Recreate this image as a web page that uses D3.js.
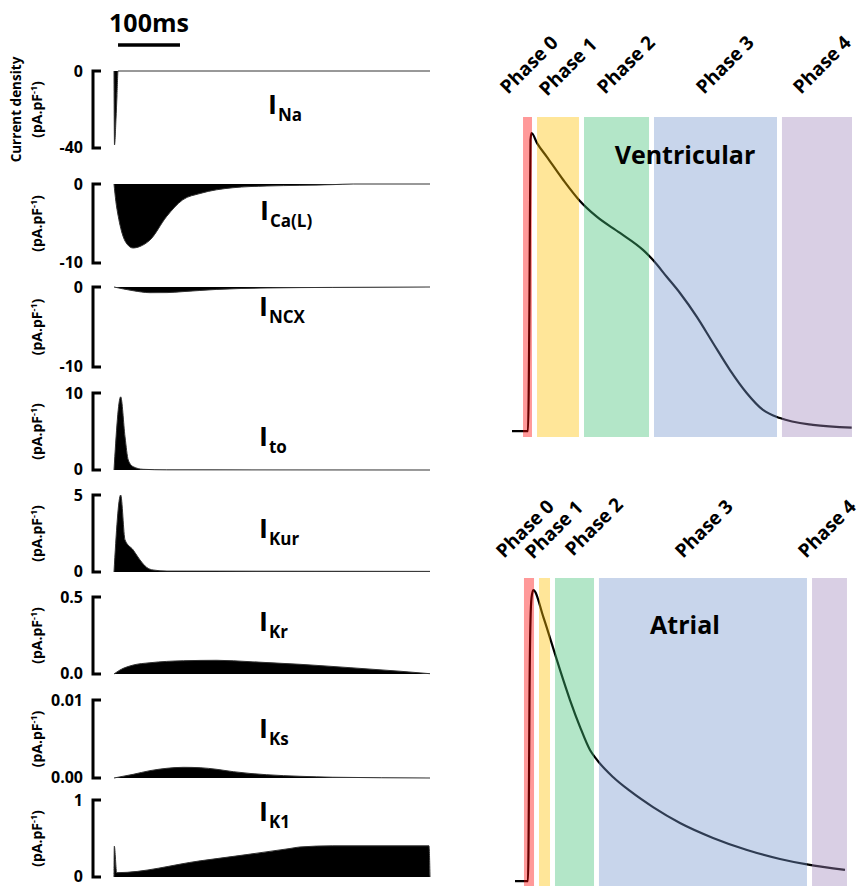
<!DOCTYPE html>
<html>
<head>
<meta charset="utf-8">
<script src="https://cdnjs.cloudflare.com/ajax/libs/d3/7.8.5/d3.min.js"></script>
<style>
body {margin: 0; background: #fff;}
text {font-family: "Open Sans", sans-serif; font-weight: bold; fill: #000;}
</style>
</head>
<body>
<div id="chart"></div>
<script>
//Ionic currents, [time ms, current density pA/pF]
let iNa  = [[0,0],[0.8,-38.4],[3.2,-25],[4.8,-13],[6.5,0],[510,0]];
let iCaL = [[0,0],[3,-2.2],[6.9,-4.1],[15,-6.7],[21,-7.6],[30.7,-8.1],[42,-7.9],[58,-7.1],[85,-4.1],[111,-2.0],[139,-1.2],[192,-0.47],[247,-0.25],[300,-0.17],[353,-0.08],[386,0],[510,0]];
let iNCX = [[0,0],[30.7,-0.46],[58,-0.71],[85.5,-0.7],[111,-0.58],[166,-0.3],[247,-0.12],[353,-0.05],[510,0]];
let iTo  = [[0,0],[10.8,9.5],[17.8,4.3],[23,1.3],[31,0.43],[47,0.09],[85,0.02],[510,0]];
let iKur = [[0,0],[10.8,5.0],[17.8,2.08],[31,1.43],[42,0.78],[52.8,0.3],[63,0.13],[85.5,0.06],[510,0.04]];
let iKr  = [[0,0],[9.7,0.026],[31,0.058],[58,0.073],[112,0.086],[166,0.089],[219.5,0.08],[300,0.063],[381,0.041],[461.6,0.018],[510,0.002]];
let iKs  = [[0,0],[31,0.00047],[58,0.00094],[85,0.00124],[112,0.00137],[139,0.00132],[166,0.00111],[192.5,0.00081],[246.5,0.00042],[300,0.00022],[353,0.0001],[510,0]];
let iK1  = [[0,0],[0.5,0.40],[4.4,0.056],[139,0.21],[284,0.37],[300,0.39],[353,0.405],[508.4,0.405],[510,0]];

let currents = [iNa, iCaL, iNCX, iTo, iKur, iKr, iKs, iK1];
let currentNames = ["Na", "Ca(L)", "NCX", "to", "Kur", "Kr", "Ks", "K1"];
let currentDomains = [[-40,0],[-10,0],[-10,0],[0,10],[0,5],[0,0.5],[0,0.01],[0,1]];
let tickTop = ["0", "0", "0", "10", "5", "0.5", "0.01", "1"];
let tickBottom = ["-40", "-10", "-10", "0", "0", "0.0", "0.00", "0"];

//Action potentials, [time ms, membrane potential mV]
let apVentricular = [[0,-87.6],[23.5,-87.6],[25.7,-34.3],[27.2,30.7],[28.7,33.5],[36.8,29.4],[51,23.9],[75.4,14.4],[98.5,6.3],[124.6,-0.5],[158.8,-7.1],[192.6,-14.0],[207.4,-18.1],[227.5,-24.9],[247,-31.5],[271.6,-41.1],[295.6,-51.8],[320.6,-62.8],[345.1,-72.1],[369.1,-79.0],[394.1,-82.3],[442.6,-85.1],[499.6,-86.2]];
let apAtrial = [[4.4,-87.9],[23.5,-87.9],[25,-45.3],[25.7,-11.5],[27.2,22.3],[28.7,31.6],[31.3,34.9],[46,23.6],[58.4,12.4],[70.6,1.2],[85.3,-11.5],[100,-22.8],[114.7,-32.6],[125,-36.8],[148.5,-44.0],[173.5,-49.9],[207.4,-56.7],[247,-63.4],[295.6,-69.7],[345.6,-74.8],[394.1,-78.6],[433.8,-80.9],[489.7,-83.2]];

let phaseNames = ["Phase 0", "Phase 1", "Phase 2", "Phase 3", "Phase 4"];
let ventPhases = [[16.2,29.4],[36.8,98.5],[105.9,201.5],[208.8,389.7],[397,500]];
let atrialPhases = [[17.6,32.4],[39.7,55.9],[63.2,120.6],[127.9,433.8],[441.2,492.6]];
let phaseColors = ["#ff0000", "#ffc000", "#41c075", "#7597cd", "#a087bc"];

//Layout
let width = 864, height = 886;
let panelTop = [71, 184, 287, 393, 495, 597, 700, 800],
    panelBottom = [148, 263, 367, 470, 572, 674, 778, 877],
    labelPos = [[268,114],[260,220],[259,316],[259,446],[259,538],[259,631],[259,738],[259,821]];

let svg = d3.select("#chart").append("svg")
  .attr("width", width)
  .attr("height", height);

//Left: current traces share one time axis
let xLeft = d3.scaleLinear().domain([0, 510]).range([114, 430]);

//Scale bar 100ms
svg.append("line")
  .attr("x1", xLeft(6.5)).attr("x2", xLeft(106.5))
  .attr("y1", 45).attr("y2", 45)
  .attr("stroke", "#000").attr("stroke-width", 3.5);
svg.append("text")
  .attr("x", xLeft(56.5)).attr("y", 32)
  .attr("text-anchor", "middle")
  .style("font-size", "25px")
  .text("100ms");

currents.forEach(function(data, i) {
  let y = d3.scaleLinear().domain(currentDomains[i]).range([panelBottom[i], panelTop[i]]);
  let g = svg.append("g").attr("class", "current");

  //Bracket axis
  g.append("path")
    .attr("d", "M101," + panelTop[i] + "H93V" + panelBottom[i] + "H101")
    .attr("fill", "none").attr("stroke", "#000").attr("stroke-width", 3);
  g.append("text").attr("x", 83).attr("y", panelTop[i]).attr("dy", "0.36em")
    .attr("text-anchor", "end").style("font-size", "16px").text(tickTop[i]);
  g.append("text").attr("x", 83).attr("y", panelBottom[i]).attr("dy", "0.32em")
    .attr("text-anchor", "end").style("font-size", "16px").text(tickBottom[i]);

  //Filled trace
  let area = d3.area().x(d => xLeft(d[0])).y0(y(0)).y1(d => y(d[1])).curve(d3.curveMonotoneX);
  let line = d3.line().x(d => xLeft(d[0])).y(d => y(d[1])).curve(d3.curveMonotoneX);
  g.append("path").datum(data).attr("d", area).attr("fill", "#000");
  g.append("path").datum(data).attr("d", line)
    .attr("fill", "none").attr("stroke", "#333").attr("stroke-width", 1);

  //Current name, I with subscript
  let t = g.append("text").attr("x", labelPos[i][0]).attr("y", labelPos[i][1]);
  t.append("tspan").style("font-size", "27px").text("I");
  t.append("tspan").style("font-size", "17px").attr("dx", 1).attr("dy", 7).text(currentNames[i]);

  //Unit label
  let cy = (panelTop[i] + panelBottom[i]) / 2;
  let u = g.append("text")
    .attr("transform", "translate(42," + cy + ") rotate(-90)")
    .attr("text-anchor", "middle").style("font-size", "14px");
  u.append("tspan").text("(pA.pF");
  u.append("tspan").attr("dy", -5).style("font-size", "9px").text("-1");
  u.append("tspan").attr("dy", 5).text(")");
});

svg.append("text")
  .attr("transform", "translate(21," + ((panelTop[0] + panelBottom[0]) / 2) + ") rotate(-90)")
  .attr("text-anchor", "middle").style("font-size", "13.5px")
  .text("Current density");

//Right: action potentials with phase bands
let xRight = d3.scaleLinear().domain([0, 500]).range([512, 852]);
let ventLabelStart = [[508,95],[547,97],[605,95],[704,95],[801,95]];
let atrialLabelStart = [[504,559],[533,560],[573,557],[683,559],[806,559]];

function drawAP(ap, phases, yRange, title, titleY, labelStart) {
  let y = d3.scaleLinear().domain([-90, 40]).range(yRange);
  let g = svg.append("g").attr("class", "ap");
  //Trace under the tinted bands
  g.append("path").datum(ap)
    .attr("d", d3.line().x(d => xRight(d[0])).y(d => y(d[1])).curve(d3.curveMonotoneX))
    .attr("fill", "none").attr("stroke", "#000").attr("stroke-width", 2.2);
  g.selectAll(".band")
    .data(phases)
    .enter().append("rect")
      .attr("class", "band")
      .attr("x", d => xRight(d[0]))
      .attr("width", d => xRight(d[1]) - xRight(d[0]))
      .attr("y", y(40))
      .attr("height", y(-90) - y(40))
      .attr("fill", (d, i) => phaseColors[i])
      .attr("opacity", 0.4);
  g.selectAll(".phase")
    .data(phaseNames)
    .enter().append("text")
      .attr("class", "phase")
      .attr("transform", (d, i) => "translate(" + labelStart[i][0] + "," + labelStart[i][1] + ") rotate(-45)")
      .style("font-size", "19px")
      .text(d => d);
  g.append("text")
    .attr("x", 685).attr("y", titleY)
    .attr("text-anchor", "middle")
    .style("font-size", "25px")
    .text(title);
}

drawAP(apVentricular, ventPhases, [437, 117], "Ventricular", 164, ventLabelStart);
drawAP(apAtrial, atrialPhases, [886, 578], "Atrial", 634, atrialLabelStart);
</script>
</body>
</html>
